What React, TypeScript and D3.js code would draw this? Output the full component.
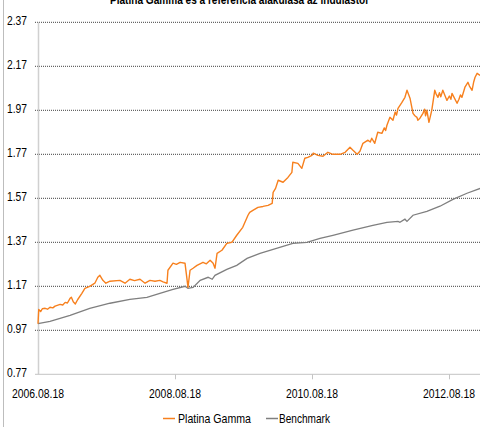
import React, { useEffect, useRef } from 'react'
import * as d3 from 'd3'

const title = 'Platina Gamma és a referencia alakulása az indulástól'
const yTicks = [0.77, 0.97, 1.17, 1.37, 1.57, 1.77, 1.97, 2.17, 2.37]
const xTickLabels = ['2006.08.18', '2008.08.18', '2010.08.18', '2012.08.18']
const seriesNames = ['Platina Gamma', 'Benchmark']

// [date, value]
const gammaData: [string, number][] = [
  ['2006-08-18', 1.0], ['2006-08-22', 1.065], ['2006-09-01', 1.055], ['2006-09-10', 1.068], ['2006-09-25', 1.07],
  ['2006-10-08', 1.066], ['2006-10-21', 1.075], ['2006-11-05', 1.072], ['2006-11-17', 1.08], ['2006-12-14', 1.088],
  ['2006-12-28', 1.085], ['2007-01-10', 1.097], ['2007-01-22', 1.094],
  ['2007-02-05', 1.115], ['2007-02-12', 1.12], ['2007-02-22', 1.1], ['2007-03-05', 1.09],
  ['2007-03-18', 1.11], ['2007-04-09', 1.138], ['2007-04-25', 1.161], ['2007-05-21', 1.17],
  ['2007-06-17', 1.184], ['2007-07-03', 1.211], ['2007-07-14', 1.22], ['2007-07-30', 1.197],
  ['2007-08-15', 1.184], ['2007-09-06', 1.193], ['2007-10-29', 1.197], ['2007-11-25', 1.184],
  ['2007-12-21', 1.202], ['2008-01-15', 1.196], ['2008-02-13', 1.202], ['2008-03-11', 1.184], ['2008-04-06', 1.197],
  ['2008-05-03', 1.193], ['2008-05-29', 1.197], ['2008-06-15', 1.19], ['2008-07-06', 1.184],
  ['2008-07-11', 1.243], ['2008-08-07', 1.275], ['2008-08-25', 1.27], ['2008-09-14', 1.279], ['2008-10-10', 1.275],
  ['2008-10-26', 1.165], ['2008-11-06', 1.243], ['2008-11-22', 1.252], ['2008-12-13', 1.265],
  ['2009-01-14', 1.279], ['2009-02-01', 1.272], ['2009-02-21', 1.288], ['2009-03-09', 1.275], ['2009-03-19', 1.252],
  ['2009-03-30', 1.32], ['2009-04-25', 1.334], ['2009-05-21', 1.365], ['2009-06-17', 1.37],
  ['2009-07-13', 1.402], ['2009-08-14', 1.438], ['2009-09-11', 1.493], ['2009-09-20', 1.506],
  ['2009-10-07', 1.515], ['2009-11-03', 1.529], ['2009-11-30', 1.533], ['2009-12-27', 1.538],
  ['2010-01-18', 1.547], ['2010-01-23', 1.597], ['2010-02-05', 1.615], ['2010-02-19', 1.652],
  ['2010-03-17', 1.643], ['2010-04-12', 1.665], ['2010-05-03', 1.688], ['2010-05-08', 1.734],
  ['2010-06-04', 1.729], ['2010-06-25', 1.706], ['2010-07-11', 1.752], ['2010-07-27', 1.756],
  ['2010-08-18', 1.765], ['2010-08-25', 1.775], ['2010-09-19', 1.765], ['2010-10-16', 1.761],
  ['2010-11-11', 1.779], ['2010-12-08', 1.77], ['2011-01-15', 1.77], ['2011-02-11', 1.779],
  ['2011-03-09', 1.802], ['2011-03-25', 1.788], ['2011-04-16', 1.77], ['2011-05-01', 1.784],
  ['2011-05-17', 1.82], ['2011-06-13', 1.834], ['2011-06-25', 1.826], ['2011-07-03', 1.843], ['2011-07-19', 1.82],
  ['2011-08-04', 1.87], ['2011-08-26', 1.865], ['2011-09-08', 1.89], ['2011-09-15', 1.878], ['2011-09-22', 1.902],
  ['2011-10-08', 1.938], ['2011-10-24', 1.925], ['2011-11-05', 1.962], ['2011-11-12', 1.948], ['2011-11-20', 1.979],
  ['2011-12-11', 2.006], ['2011-12-27', 2.029],
  ['2012-01-07', 2.061], ['2012-01-23', 2.025], ['2012-02-08', 1.956], ['2012-02-18', 1.945], ['2012-02-29', 1.938],
  ['2012-03-05', 1.925], ['2012-03-16', 1.934], ['2012-04-01', 1.956], ['2012-04-10', 1.975], ['2012-04-15', 1.945],
  ['2012-04-22', 1.97], ['2012-05-03', 1.915],
  ['2012-05-18', 1.97], ['2012-06-03', 2.061], ['2012-06-10', 2.045], ['2012-06-20', 2.029], ['2012-06-28', 2.05],
  ['2012-07-05', 2.032], ['2012-07-16', 2.061], ['2012-08-07', 2.015], ['2012-08-20', 2.035], ['2012-08-28', 2.02],
  ['2012-09-03', 2.047], ['2012-09-30', 2.002], ['2012-10-10', 2.02], ['2012-10-18', 2.04], ['2012-10-26', 2.029],
  ['2012-11-11', 2.075], ['2012-11-27', 2.097], ['2012-12-05', 2.08], ['2012-12-19', 2.061], ['2012-12-28', 2.1],
  ['2013-01-04', 2.12], ['2013-01-15', 2.138], ['2013-01-31', 2.129],
]

const benchData: [string, number][] = [
  ['2006-08-18', 1.0], ['2006-10-21', 1.011], ['2007-02-05', 1.038], ['2007-05-21', 1.07],
  ['2007-09-06', 1.093], ['2007-12-21', 1.111], ['2008-03-21', 1.12], ['2008-05-29', 1.138],
  ['2008-08-07', 1.156], ['2008-10-10', 1.17], ['2008-10-26', 1.161], ['2008-11-22', 1.165],
  ['2008-12-30', 1.197], ['2009-02-10', 1.211], ['2009-03-04', 1.202], ['2009-03-19', 1.22],
  ['2009-05-21', 1.247], ['2009-07-13', 1.265], ['2009-09-06', 1.297], ['2009-11-14', 1.32],
  ['2010-02-14', 1.343], ['2010-05-08', 1.365], ['2010-07-22', 1.37], ['2010-09-30', 1.388],
  ['2010-12-08', 1.402], ['2011-03-25', 1.425], ['2011-07-09', 1.447], ['2011-09-22', 1.461],
  ['2011-11-20', 1.465], ['2011-11-30', 1.461], ['2011-12-27', 1.475], ['2012-01-07', 1.465],
  ['2012-02-08', 1.493], ['2012-04-22', 1.511], ['2012-07-01', 1.534], ['2012-09-08', 1.565],
  ['2012-11-22', 1.593], ['2013-01-31', 1.615],
]

const W = 480
const H = 427
const font = "'Liberation Sans', Arial, sans-serif"

export default function App() {
  const ref = useRef<SVGSVGElement | null>(null)

  useEffect(() => {
    const svg = d3.select(ref.current)
    svg.selectAll('*').remove()
    const parse = d3.timeParse('%Y-%m-%d')
    const tickDates = xTickLabels.map(s => d3.timeParse('%Y.%m.%d')(s) as Date)

    const x = d3.scaleTime()
      .domain([tickDates[0], tickDates[3]])
      .range([38, 449])
    const y = d3.scaleLinear().domain([0.77, 2.37]).range([374.3, 22.3])

    // chart frame (left edge only visible)
    svg.append('line').attr('x1', 3.5).attr('x2', 3.5).attr('y1', 0).attr('y2', H)
      .attr('stroke', '#bdbdbd').attr('stroke-width', 1)

    // title (cut off at top, as in the source)
    svg.append('text').attr('x', 110).attr('y', 4)
      .attr('textLength', 258).attr('lengthAdjust', 'spacingAndGlyphs')
      .attr('font-family', font).attr('font-weight', 'bold').attr('font-size', 12)
      .attr('fill', '#000').text(title)

    // grid lines
    svg.append('g').selectAll('line').data(yTicks.slice(1)).enter().append('line')
      .attr('x1', 35).attr('x2', W).attr('y1', d => y(d)).attr('y2', d => y(d))
      .attr('stroke', '#404040').attr('stroke-width', 1).attr('stroke-dasharray', '1 1')

    // y axis
    svg.append('line').attr('x1', 38.5).attr('x2', 38.5).attr('y1', y(2.37)).attr('y2', y(0.77))
      .attr('stroke', '#d0d0d0').attr('stroke-width', 1.5)
    svg.append('line').attr('x1', 35).attr('x2', W).attr('y1', y(0.77)).attr('y2', y(0.77))
      .attr('stroke', '#c4c4c4').attr('stroke-width', 1)
    svg.append('g').selectAll('text').data(yTicks).enter().append('text')
      .attr('x', 7).attr('y', d => y(d) + 2.5)
      .attr('textLength', 20).attr('lengthAdjust', 'spacingAndGlyphs')
      .attr('font-family', font).attr('font-size', 12)
      .attr('fill', '#000').text(d => d.toFixed(2))

    // x axis ticks and labels
    svg.append('g').selectAll('line').data(tickDates.slice(1)).enter().append('line')
      .attr('x1', d => Math.round(x(d)) + 0.5).attr('x2', d => Math.round(x(d)) + 0.5)
      .attr('y1', y(0.77)).attr('y2', y(0.77) + 5)
      .attr('stroke', '#c4c4c4')
    svg.append('g').selectAll('text').data(tickDates).enter().append('text')
      .attr('x', d => x(d) - 26).attr('y', 397.7)
      .attr('textLength', 52).attr('lengthAdjust', 'spacingAndGlyphs')
      .attr('font-family', font).attr('font-size', 12).attr('fill', '#000')
      .text((d, i) => xTickLabels[i])

    const line = d3.line<[string, number]>()
      .x(d => x(parse(d[0]) as Date))
      .y(d => y(d[1]))

    svg.append('path').datum(benchData).attr('fill', 'none')
      .attr('stroke', '#7f7f7f').attr('stroke-width', 1.3).attr('d', line)
    svg.append('path').datum(gammaData).attr('fill', 'none')
      .attr('stroke', '#f7801e').attr('stroke-width', 1.4).attr('stroke-linejoin', 'round')
      .attr('d', line)

    // legend
    const leg = [
      { name: seriesNames[0], color: '#f7801e', lx: 163, tx: 178, tw: 73 },
      { name: seriesNames[1], color: '#7f7f7f', lx: 266, tx: 279, tw: 51 },
    ]
    const lg = svg.append('g')
    leg.forEach(l => {
      lg.append('line').attr('x1', l.lx).attr('x2', l.lx + 12).attr('y1', 418.5).attr('y2', 418.5)
        .attr('stroke', l.color).attr('stroke-width', 1.5)
      lg.append('text').attr('x', l.tx).attr('y', 423)
        .attr('textLength', l.tw).attr('lengthAdjust', 'spacingAndGlyphs')
        .attr('font-family', font).attr('font-size', 13).attr('fill', '#000').text(l.name)
    })
  }, [])

  return (
    <svg ref={ref} width={W} height={H}
      style={{ position: 'absolute', left: 0, top: 0, background: '#fff' }} />
  )
}
